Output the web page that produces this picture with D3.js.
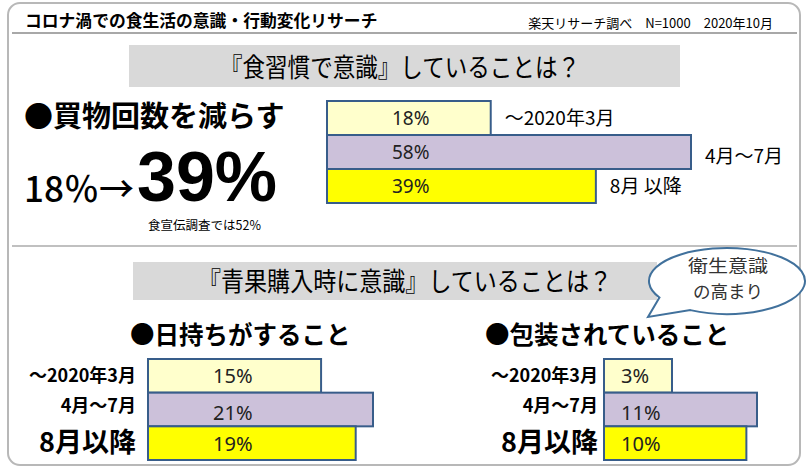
<!DOCTYPE html>
<html><head><meta charset="utf-8">
<script src="https://cdn.jsdelivr.net/npm/d3@7"></script>
<style>body{margin:0;background:#fff}svg{display:block}</style>
</head><body>
<svg id="c" width="807" height="471"></svg>
<script>
// ---- data ----
const periods = ["～2020年3月", "4月～7月", "8月以降"];
const periodsTop = ["～2020年3月", "4月～7月", "8月 以降"];
const shoppingLess = [18, 58, 39];     // 買物回数を減らす
const longLasting = [15, 21, 19];      // 日持ちがすること
const packaged = [3, 11, 10];          // 包装されていること
const barColors = ["#ffffcc", "#ccc1da", "#ffff00"];
const titleText = "コロナ渦での食生活の意識・行動変化リサーチ";
const sourceText = "楽天リサーチ調べ　N=1000　2020年10月";
const banner1 = "『食習慣で意識』していることは？";
const banner2 = "『青果購入時に意識』していることは？";
const heading1 = "●買物回数を減らす";
const heading2 = "●日持ちがすること";
const heading3 = "●包装されていること";
const bigFrom = "18％→";
const bigTo = "39%";
const note = "食宣伝調査では52%";
const bubbleLines = ["衛生意識", "の高まり"];

const JP = "'Noto Sans CJK JP','Noto Sans',sans-serif";
const svg = d3.select("#c");

// frame
svg.append("rect").attr("x", 8).attr("y", 3).attr("width", 792).attr("height", 462)
  .attr("rx", 12).attr("fill", "#fff").attr("stroke", "#b8b8b8").attr("stroke-width", 2);
svg.append("line").attr("x1", 12).attr("x2", 797).attr("y1", 33).attr("y2", 33)
  .attr("stroke", "#a8a8a8").attr("stroke-width", 2);
svg.append("line").attr("x1", 12).attr("x2", 797).attr("y1", 246).attr("y2", 246)
  .attr("stroke", "#c0c0c0").attr("stroke-width", 2);

svg.append("text").attr("x", 25).attr("y", 27).text(titleText)
  .attr("font-family", JP).attr("font-weight", "bold").attr("font-size", 16.8).attr("fill", "#000");
svg.append("text").attr("x", 773).attr("y", 28).attr("text-anchor", "end").text(sourceText)
  .attr("font-family", JP).attr("font-size", 13).attr("fill", "#000");

// banners
svg.append("rect").attr("x", 129).attr("y", 45).attr("width", 551).attr("height", 42).attr("fill", "#d9d9d9");
svg.append("text").attr("x", 400).attr("y", 77).attr("text-anchor", "middle").text(banner1)
  .attr("textLength", 360).attr("lengthAdjust", "spacingAndGlyphs")
  .attr("font-family", JP).attr("font-size", 26).attr("fill", "#000");
svg.append("rect").attr("x", 133).attr("y", 262).attr("width", 524).attr("height", 38).attr("fill", "#d9d9d9");
svg.append("text").attr("x", 405).attr("y", 291).attr("text-anchor", "middle").text(banner2)
  .attr("textLength", 414).attr("lengthAdjust", "spacingAndGlyphs")
  .attr("font-family", JP).attr("font-size", 26).attr("fill", "#000");

// left headline numbers
svg.append("text").attr("x", 24).attr("y", 127).text(heading1)
  .attr("font-family", JP).attr("font-weight", "bold").attr("font-size", 29).attr("fill", "#000");
svg.append("text").attr("x", 24).attr("y", 202).text(bigFrom)
  .attr("font-family", JP).attr("font-weight", 500).attr("font-size", 35).attr("fill", "#000");
svg.append("text").attr("x", 137).attr("y", 201).text(bigTo)
  .attr("font-family", "'Liberation Sans',Arial,sans-serif").attr("font-weight", "bold")
  .attr("font-size", 70).attr("fill", "#000");
svg.append("text").attr("x", 148).attr("y", 230).text(note)
  .attr("font-family", JP).attr("font-size", 12.5).attr("fill", "#000");

// generic bar panel
function panel(values, xDomain, xRange, yRange, labelOffset, opts) {
  const x = d3.scaleLinear().domain(xDomain).range(xRange);
  const y = d3.scaleBand().domain(periods).range(yRange).padding(0);
  const g = svg.append("g");
  const data = periods.map((p, i) => ({p, v: values[i], c: barColors[i], lab: opts.rowLabels[i], i}));
  g.selectAll("rect").data(data).join("rect")
    .attr("x", x(xDomain[0])).attr("y", d => y(d.p))
    .attr("width", d => x(d.v) - x(xDomain[0])).attr("height", y.bandwidth())
    .attr("fill", d => d.c).attr("stroke", "#385d8a").attr("stroke-width", 2);
  g.selectAll("text.val").data(data).join("text").attr("class", "val")
    .attr("x", x(xDomain[0]) + labelOffset)
    .attr("y", d => y(d.p) + y.bandwidth() / 2 + (opts.valShift ? opts.valShift[d.i] : 0))
    .attr("dy", "0.35em").text(d => d.v + "%")
    .attr("font-family", "'Noto Sans',sans-serif").attr("font-size", opts.valSize).attr("fill", "#222");
  g.selectAll("text.row").data(data).join("text").attr("class", "row")
    .attr("x", d => opts.after ? x(d.v) + 14 : opts.labelX)
    .attr("y", d => y(d.p) + y.bandwidth() / 2 + (opts.rowShift ? opts.rowShift[d.i] : 0))
    .attr("dy", "0.35em")
    .attr("text-anchor", opts.after ? "start" : "end")
    .text(d => d.lab)
    .attr("font-family", JP)
    .attr("font-weight", opts.after ? "normal" : "bold")
    .attr("font-size", d => opts.rowSizes[d.i]).attr("fill", "#000");
}

panel(shoppingLess, [-14.7, 58], [327, 691], [101, 203], 65,
  {after: true, rowLabels: periodsTop, rowSizes: [19, 19, 19], valSize: 19, rowShift: [0, 4, 0]});
panel(longLasting, [-5, 21], [148, 373], [359, 460], 65,
  {after: false, labelX: 136, rowLabels: periods, rowSizes: [18, 18, 27], valSize: 20,
   rowShift: [0, -4, -1], valShift: [0, 3, 1]});
panel(packaged, [-3.4, 11], [604, 757], [359, 460], 17,
  {after: false, labelX: 598, rowLabels: periods, rowSizes: [18, 18, 27], valSize: 20,
   rowShift: [0, -4, -1], valShift: [0, 3, 1]});

svg.append("text").attr("x", 130).attr("y", 344).text(heading2)
  .attr("font-family", JP).attr("font-weight", "bold").attr("font-size", 24.5).attr("fill", "#000");
svg.append("text").attr("x", 485).attr("y", 344).text(heading3)
  .attr("font-family", JP).attr("font-weight", "bold").attr("font-size", 24.5).attr("fill", "#000");

// speech bubble
const cx = 727, cy = 281, rx = 78, ry = 33;
const pt = t => [cx + rx * Math.cos(t * Math.PI / 180), cy + ry * Math.sin(t * Math.PI / 180)];
const p1 = pt(150), p2 = pt(118), tip = [648, 317];
svg.append("path")
  .attr("d", `M${p2[0]},${p2[1]} A${rx},${ry} 0 1 0 ${p1[0]},${p1[1]} L${tip[0]},${tip[1]} Z`)
  .attr("fill", "#fff").attr("stroke", "#41719c").attr("stroke-width", 2);
svg.selectAll("text.bub").data(bubbleLines).join("text").attr("class", "bub")
  .attr("x", 728).attr("y", (d, i) => 272 + i * 25.5).attr("text-anchor", "middle")
  .attr("textLength", (d, i) => i === 0 ? 80 : 70).attr("lengthAdjust", "spacingAndGlyphs")
  .text(d => d)
  .attr("font-family", JP).attr("font-size", 17.5).attr("fill", "#333");
</script>
</body></html>
